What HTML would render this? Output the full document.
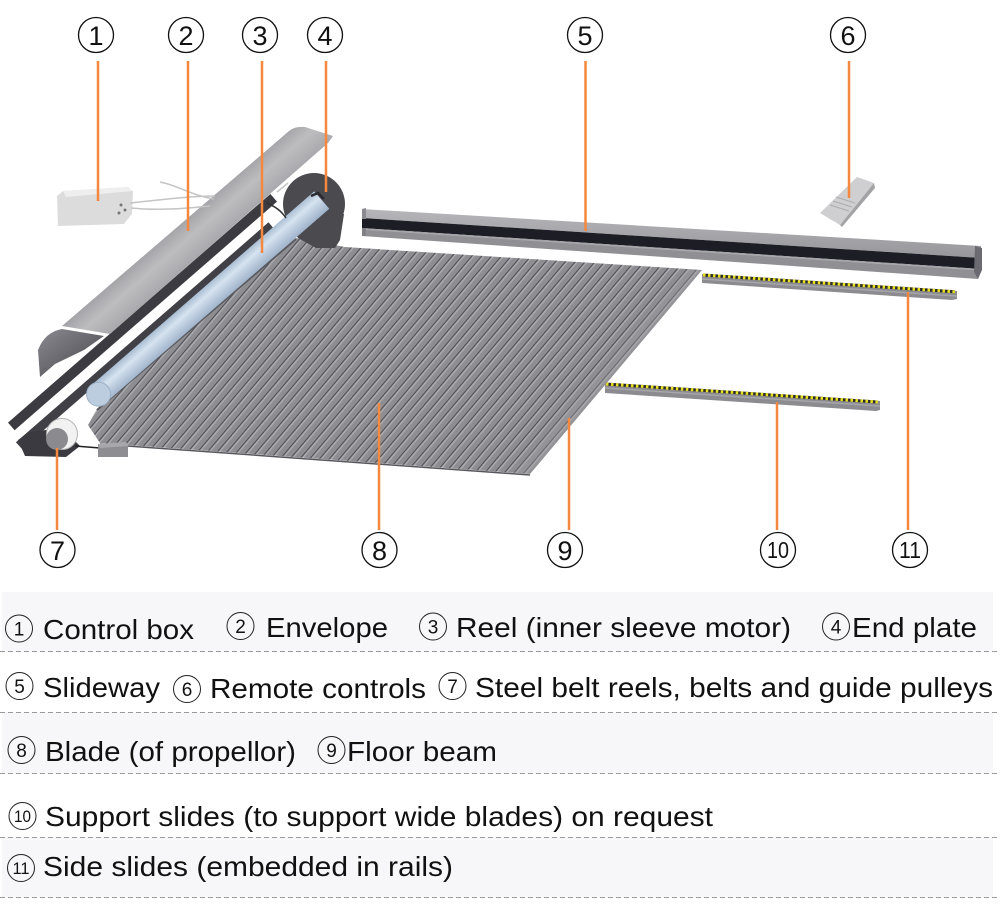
<!DOCTYPE html>
<html>
<head>
<meta charset="utf-8">
<style>
html,body{margin:0;padding:0;background:#fff;}
svg{display:block;}
</style>
</head>
<body>
<svg width="1000" height="908" viewBox="0 0 1000 908" xmlns="http://www.w3.org/2000/svg">
<defs>
  <pattern id="ribs" patternUnits="userSpaceOnUse" width="7.5" height="20" patternTransform="rotate(40.3)">
    <rect width="7.5" height="20" fill="#8e8e92"/>
    <rect x="0" width="1.2" height="20" fill="#4c4c52"/>
    <rect x="1.2" width="1.6" height="20" fill="#acacb0"/>
  </pattern>
  <linearGradient id="env" gradientUnits="userSpaceOnUse" x1="268.7" y1="146.4" x2="293" y2="174.3">
    <stop offset="0" stop-color="#a4a4a8"/>
    <stop offset="0.45" stop-color="#bdbdc0"/>
    <stop offset="1" stop-color="#a9a9ad"/>
  </linearGradient>
  <linearGradient id="reel" gradientUnits="userSpaceOnUse" x1="310.4" y1="194.3" x2="325.6" y2="211.7">
    <stop offset="0" stop-color="#a9bdd2"/>
    <stop offset="0.35" stop-color="#d6e3f0"/>
    <stop offset="1" stop-color="#9fb3ca"/>
  </linearGradient>
  <linearGradient id="lowenv" x1="0" y1="0" x2="1" y2="1">
    <stop offset="0" stop-color="#8a8a90"/>
    <stop offset="1" stop-color="#45454b"/>
  </linearGradient>
  <linearGradient id="railtop" x1="0" y1="0" x2="0" y2="1">
    <stop offset="0" stop-color="#b6b6ba"/>
    <stop offset="1" stop-color="#97979b"/>
  </linearGradient>
</defs>

<!-- Legend backgrounds -->
<rect x="2" y="592" width="991" height="59" fill="#f7f7f9"/>
<rect x="2" y="712" width="991" height="61" fill="#f7f7f9"/>
<rect x="2" y="837" width="991" height="60" fill="#f7f7f9"/>
<g stroke="#9a9a9a" stroke-width="1" stroke-dasharray="5,3">
  <line x1="0" y1="651.5" x2="1000" y2="651.5"/>
  <line x1="0" y1="712.5" x2="1000" y2="712.5"/>
  <line x1="0" y1="773.5" x2="1000" y2="773.5"/>
  <line x1="0" y1="837.5" x2="1000" y2="837.5"/>
  <line x1="0" y1="897.5" x2="1000" y2="897.5"/>
</g>

<!-- Slideway rail -->
<polygon points="362,209 981,246 981,258 362,218" fill="url(#railtop)"/>
<polygon points="362,218 981,258 981,269 362,228" fill="#1d1d25"/>
<polygon points="362,228 981,269 978,279 362,236" fill="#909094"/>
<line x1="362" y1="229" x2="981" y2="270" stroke="#a8a8ac" stroke-width="1.5"/>
<polygon points="975,246 982,248 982,270 978,279 974,272" fill="#6a6a70"/>
<polygon points="362,209 366,208 366,219 362,219" fill="#8a8a8f"/>
<polygon points="362,228 366,228 366,236 362,236" fill="#808085"/>

<!-- Remote -->
<polygon points="857,177 874,183 840,225 820,213" fill="#cfcfd1"/>
<polygon points="874,183 875,188 842,227 840,225" fill="#a3a3a6"/>
<g stroke="#adadb0" stroke-width="1">
  <line x1="836" y1="197" x2="855" y2="203"/>
  <line x1="833" y1="201" x2="852" y2="207"/>
  <line x1="830" y1="205" x2="849" y2="211"/>
</g>

<!-- Side slide (11) -->
<polygon points="702,274 957,291 957,299 952,300 702,283" fill="#8c8c90"/>
<line x1="702" y1="279" x2="957" y2="296" stroke="#a6a6aa" stroke-width="1.5"/>
<line x1="703" y1="275" x2="955" y2="291.8" stroke="#2a2a2a" stroke-width="3"/>
<line x1="703" y1="275" x2="955" y2="291.8" stroke="#e8e020" stroke-width="3" stroke-dasharray="2.5,2.5"/>

<!-- Support slide (10) -->
<polygon points="605,383 880,401 880,410 876,411 605,393" fill="#8c8c90"/>
<line x1="605" y1="388" x2="880" y2="406" stroke="#a6a6aa" stroke-width="1.5"/>
<line x1="606" y1="384" x2="878" y2="402" stroke="#2a2a2a" stroke-width="3"/>
<line x1="606" y1="384" x2="878" y2="402" stroke="#e8e020" stroke-width="3" stroke-dasharray="2.5,2.5"/>

<!-- Lower envelope dark piece -->
<path d="M38,350 Q45,332 62,329 L104,336 L84,350 L55,364 L40,377 Z" fill="url(#lowenv)"/>

<!-- Dark strip 1 -->
<polygon points="270.4,194 277,201.6 14.6,430.2 8,422.6" fill="#3b3b41"/>
<!-- Housing strip 2 -->
<polygon points="268.5,222.3 274.5,229.4 22,449 15.9,442.3" fill="#404046"/>
<!-- Housing base -->
<polygon points="18,440 25,456 66,457 80,446 62,428 30,432" fill="#3a3a40"/>

<!-- Blade -->
<polygon points="296,238 345,247 702,270 530,474 100,443 88,425 97,409" fill="url(#ribs)"/>
<polygon points="702,270 530,474 514,473 687,269" fill="#a0a0a4" opacity="0.35"/>
<line x1="100" y1="444" x2="530" y2="475" stroke="#56565c" stroke-width="1.5"/>
<line x1="296" y1="239" x2="97" y2="410" stroke="#5a5a60" stroke-width="2"/>

<!-- End plate -->
<circle cx="314" cy="204" r="31" fill="#4a4a4f"/>
<polygon points="285,220 344,214 340,240 335,248 316,248 298,238" fill="#4a4a4f"/>

<!-- Reel -->
<polygon points="314.2,191.4 329.3,208.8 106,402.5 91,385.5" fill="url(#reel)"/>
<circle cx="98.6" cy="394.2" r="12" fill="#bccde0" stroke="#9cb0c5" stroke-width="1"/>
<path d="M311,196 L318,193 L324,199" fill="none" stroke="#2a2a30" stroke-width="2.5"/>

<!-- Envelope (upper) -->
<path d="M62,326 L289,131 Q295,126 305,127 L333,136 L328,143 L110,334 Z" fill="url(#env)"/>

<!-- Pulley and box -->
<circle cx="62" cy="434" r="15.5" fill="#f2f2f2" stroke="#b5b5b5" stroke-width="1"/>
<circle cx="57" cy="439" r="11" fill="#8a8a8f"/>
<line x1="75" y1="446" x2="100" y2="448" stroke="#222" stroke-width="1.5"/>
<polygon points="98,444 126,442 128,446 128,457 98,457" fill="#8e8e92"/>
<polygon points="98,444 126,442 128,446 100,448" fill="#a8a8ac"/>

<!-- Control box -->
<polygon points="57,196 63,191 128,187 133,191 132,214 124,224 58,226" fill="#dcdcdc"/>
<polygon points="63,191 128,187 133,191 66,197" fill="#eeeeee"/>
<circle cx="121" cy="205" r="1.5" fill="#777"/>
<circle cx="125" cy="210" r="1.5" fill="#777"/>
<circle cx="119" cy="213" r="1.5" fill="#777"/>
<g fill="none" stroke="#c4c4c4" stroke-width="1.5">
  <path d="M130,203 C160,200 190,196 215,196"/>
  <path d="M131,208 C160,211 190,208 210,206"/>
  <path d="M160,182 C180,186 190,195 214,199"/>
  <path d="M277,192 L288,183"/>
</g>
<path d="M266,203 C275,206 282,212 286,218" fill="none" stroke="#333" stroke-width="1.5"/>

<!-- Orange leader lines -->
<g stroke="#f5883f" stroke-width="2.5">
  <line x1="98" y1="61" x2="98" y2="201"/>
  <line x1="188" y1="61" x2="188" y2="231"/>
  <line x1="262" y1="61" x2="262" y2="253"/>
  <line x1="326" y1="61" x2="326" y2="192"/>
  <line x1="585.5" y1="61" x2="585.5" y2="231"/>
  <line x1="849" y1="61" x2="849" y2="198"/>
  <line x1="57" y1="448" x2="57" y2="530"/>
  <line x1="379" y1="403" x2="379" y2="530"/>
  <line x1="569" y1="418" x2="569" y2="530"/>
  <line x1="777" y1="402" x2="777" y2="530"/>
  <line x1="908" y1="292" x2="908" y2="530"/>
</g>

<!-- Numbered circles on diagram -->
<g fill="#fff" stroke="#111" stroke-width="1.3">
  <circle cx="96" cy="35" r="17.5"/>
  <circle cx="186" cy="35" r="17.5"/>
  <circle cx="260" cy="35" r="17.5"/>
  <circle cx="325" cy="35" r="17.5"/>
  <circle cx="585" cy="35" r="17.5"/>
  <circle cx="848" cy="35" r="17.5"/>
  <circle cx="57.5" cy="550" r="17.5"/>
  <circle cx="379.5" cy="550" r="17.5"/>
  <circle cx="565" cy="550" r="17.5"/>
  <circle cx="778" cy="550" r="17.5"/>
  <circle cx="910" cy="550" r="17.5"/>
</g>
<g font-family="'Liberation Sans', sans-serif" font-size="27" fill="#111" text-anchor="middle">
  <text x="96" y="45">1</text>
  <text x="186" y="45">2</text>
  <text x="260" y="45">3</text>
  <text x="325" y="45">4</text>
  <text x="585" y="45">5</text>
  <text x="848" y="45">6</text>
  <text x="57.5" y="560">7</text>
  <text x="379.5" y="560">8</text>
  <text x="565" y="560">9</text>
</g>
<g font-family="'Liberation Sans', sans-serif" font-size="23" fill="#111">
  <text x="767" y="558" textLength="22" lengthAdjust="spacingAndGlyphs">10</text>
  <text x="899" y="558" textLength="22" lengthAdjust="spacingAndGlyphs">11</text>
</g>

<!-- Legend circles -->
<g fill="none" stroke="#222" stroke-width="1">
  <circle cx="19" cy="628.5" r="13.5"/>
  <circle cx="240.5" cy="626" r="13.5"/>
  <circle cx="433" cy="626.5" r="13.5"/>
  <circle cx="836" cy="626.5" r="13.5"/>
  <circle cx="19.5" cy="686" r="13.5"/>
  <circle cx="187" cy="689" r="13.5"/>
  <circle cx="452.5" cy="686" r="13.5"/>
  <circle cx="21.5" cy="750" r="13.5"/>
  <circle cx="331.5" cy="750" r="13.5"/>
  <circle cx="22.5" cy="816" r="13.5"/>
  <circle cx="21" cy="868" r="13.5"/>
</g>
<g font-family="'Liberation Sans', sans-serif" font-size="19" fill="#111" text-anchor="middle">
  <text x="19" y="635.5">1</text>
  <text x="240.5" y="633">2</text>
  <text x="433" y="633.5">3</text>
  <text x="836" y="633.5">4</text>
  <text x="19.5" y="693">5</text>
  <text x="187" y="696">6</text>
  <text x="452.5" y="693">7</text>
  <text x="21.5" y="757">8</text>
  <text x="331.5" y="757">9</text>
</g>
<g font-family="'Liberation Sans', sans-serif" font-size="17" fill="#111">
  <text x="14" y="822" textLength="17" lengthAdjust="spacingAndGlyphs">10</text>
  <text x="12.5" y="874" textLength="17" lengthAdjust="spacingAndGlyphs">11</text>
</g>

<!-- Legend text -->
<g font-family="'Liberation Sans', sans-serif" font-size="28" fill="#111">
  <text x="43" y="639" textLength="151" lengthAdjust="spacingAndGlyphs">Control box</text>
  <text x="266" y="637" textLength="122" lengthAdjust="spacingAndGlyphs">Envelope</text>
  <text x="456" y="637" textLength="335" lengthAdjust="spacingAndGlyphs">Reel (inner sleeve motor)</text>
  <text x="852" y="637" textLength="125" lengthAdjust="spacingAndGlyphs">End plate</text>
  <text x="43" y="697" textLength="117" lengthAdjust="spacingAndGlyphs">Slideway</text>
  <text x="210" y="698" textLength="216" lengthAdjust="spacingAndGlyphs">Remote controls</text>
  <text x="475" y="697" textLength="518" lengthAdjust="spacingAndGlyphs">Steel belt reels, belts and guide pulleys</text>
  <text x="45" y="761" textLength="251" lengthAdjust="spacingAndGlyphs">Blade (of propellor)</text>
  <text x="347" y="761" textLength="150" lengthAdjust="spacingAndGlyphs">Floor beam</text>
  <text x="45" y="826" textLength="668" lengthAdjust="spacingAndGlyphs">Support slides (to support wide blades) on request</text>
  <text x="43" y="876" textLength="410" lengthAdjust="spacingAndGlyphs">Side slides (embedded in rails)</text>
</g>
</svg>
</body>
</html>
